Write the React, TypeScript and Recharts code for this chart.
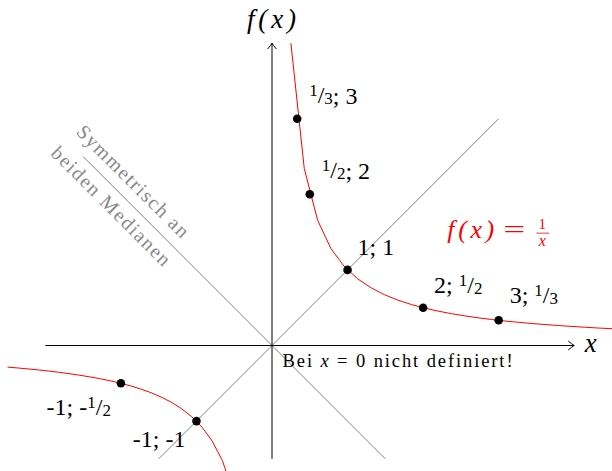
import React from "react";
import {
  ComposedChart,
  Line,
  Scatter,
  XAxis,
  YAxis,
  ReferenceLine,
  ReferenceDot,
} from "recharts";

// f(x) = 1/x, sampled like the original plot
const posX = [0.25, 0.427, 0.604, 0.781, 0.958, 1.135, 1.313, 1.49, 1.667, 1.844, 2.021, 2.198, 2.375, 2.552, 2.729, 2.906, 3.083, 3.26, 3.438, 3.615, 3.792, 3.969, 4.146, 4.323, 4.5];
const posY = [4, 2.342, 1.656, 1.28, 1.044, 0.881, 0.762, 0.671, 0.6, 0.542, 0.495, 0.455, 0.421, 0.392, 0.366, 0.344, 0.324, 0.307, 0.291, 0.277, 0.264, 0.252, 0.241, 0.231, 0.222];
const negX = [-3.5, -3.365, -3.229, -3.094, -2.958, -2.823, -2.688, -2.552, -2.417, -2.281, -2.146, -2.01, -1.875, -1.74, -1.604, -1.469, -1.333, -1.198, -1.063, -0.927, -0.792, -0.656, -0.521, -0.385];
const negY = [-0.286, -0.297, -0.31, -0.323, -0.338, -0.354, -0.372, -0.392, -0.414, -0.438, -0.466, -0.498, -0.533, -0.575, -0.623, -0.681, -0.75, -0.835, -0.941, -1.079, -1.263, -1.524, -1.919, -2.597];

// medians
const diagX = [-1.5, 3];
const diagY = [-1.5, 3];
const antiX = [-2.5, 1.5];
const antiY = [2.5, -1.5];

// marked points
const dotX = [0.3333, 0.5, 1, 2, 3, -2, -1];
const dotY = [3, 2, 1, 0.5, 0.3333, -0.5, -1];
const dotLabels = ["1/3; 3", "1/2; 2", "1; 1", "2; 1/2", "3; 1/3", "-1; -1/2", "-1; -1"];

const xAxisRange = [-3, 4];
const yAxisRange = [-1.5, 4];

const zip = (xs: number[], ys: number[]) => xs.map((x, i) => ({ x, y: ys[i] }));
const posData = zip(posX, posY);
const negData = zip(negX, negY);
const diagData = zip(diagX, diagY);
const antiData = zip(antiX, antiY);
const dotData = dotX.map((x, i) => ({ x, y: dotY[i], label: dotLabels[i] }));

const SERIF = "Liberation Serif";

// label placement relative to each dot (px)
const labelOffsets: Record<string, { dx: number; dy: number; anchor: "start" | "end" }> = {
  "1/3; 3": { dx: 12, dy: -16, anchor: "start" },
  "1/2; 2": { dx: 12, dy: -16, anchor: "start" },
  "1; 1": { dx: 10, dy: -15, anchor: "start" },
  "2; 1/2": { dx: 11, dy: -15, anchor: "start" },
  "3; 1/3": { dx: 11, dy: -17, anchor: "start" },
  "-1; -1/2": { dx: -10, dy: 32, anchor: "end" },
  "-1; -1": { dx: -11, dy: 26, anchor: "end" },
};

const renderLabel = (s: string) => {
  const out: React.ReactNode[] = [];
  const re = /(\d+)\/(\d+)/g;
  let last = 0;
  let k = 0;
  let m: RegExpExecArray | null;
  while ((m = re.exec(s))) {
    if (m.index > last) out.push(<tspan key={k++}>{s.slice(last, m.index).replace(/ /g, "\u00a0")}</tspan>);
    out.push(<tspan key={k++} fontSize={17} dy={-7}>{m[1]}</tspan>);
    out.push(<tspan key={k++} dy={7}>/</tspan>);
    out.push(<tspan key={k++} fontSize={17} dy={1}>{m[2]}</tspan>);
    last = m.index + m[0].length;
  }
  if (last < s.length) out.push(<tspan key={k++}>{s.slice(last).replace(/ /g, "\u00a0")}</tspan>);
  return out;
};

const DotWithLabel = (props: any) => {
  const { cx, cy, payload } = props;
  const off = labelOffsets[payload.label];
  return (
    <g>
      <circle cx={cx} cy={cy} r={4.3} fill="#000" />
      <text x={cx + off.dx} y={cy + off.dy} textAnchor={off.anchor} fontSize={24} fill="#000" fontFamily={SERIF}>
        {renderLabel(payload.label)}
      </text>
    </g>
  );
};

const ArrowAxis = (props: any) => {
  const { x1, y1, x2, y2 } = props;
  const deg = (Math.atan2(y2 - y1, x2 - x1) * 180) / Math.PI;
  return (
    <g>
      <line x1={x1} y1={y1} x2={x2} y2={y2} stroke="#000" strokeWidth={1} />
      <path
        d={`M ${x2 - 6} ${y2 - 4.5} Q ${x2 - 2} ${y2 - 1} ${x2} ${y2} Q ${x2 - 2} ${y2 + 1} ${x2 - 6} ${y2 + 4.5}`}
        transform={`rotate(${deg} ${x2} ${y2})`}
        fill="none"
        stroke="#000"
        strokeWidth={1}
      />
    </g>
  );
};

const Formula = (props: any) => {
  const { cx, cy } = props;
  const red = "#ff0000";
  return (
    <g fill={red} fontFamily={SERIF}>
      <text x={cx} y={cy} fontSize={26} fontStyle="italic" textLength={47} lengthAdjust="spacing">
        f(x)
      </text>
      <text x={cx + 56} y={cy} fontSize={26} textLength={22} lengthAdjust="spacingAndGlyphs">
        =
      </text>
      <text x={cx + 95} y={cy - 9.5} fontSize={15} textAnchor="middle">
        1
      </text>
      <line x1={cx + 89} y1={cy - 5} x2={cx + 102} y2={cy - 5} stroke={red} strokeWidth={0.8} />
      <text x={cx + 95} y={cy + 7.5} fontSize={16} fontStyle="italic" textAnchor="middle">
        x
      </text>
    </g>
  );
};

const TopLabel = (props: any) => (
  <text x={props.cx - 25} y={props.cy} fontSize={27} fontStyle="italic" fontFamily={SERIF} textLength={49} lengthAdjust="spacing">
    f(x)
  </text>
);

const XLabel = (props: any) => (
  <text x={props.cx} y={props.cy} fontSize={27} fontStyle="italic" fontFamily={SERIF}>
    x
  </text>
);

const NoteLabel = (props: any) => (
  <text x={props.cx} y={props.cy} fontSize={18.5} fontFamily={SERIF} textLength={230} lengthAdjust="spacing">
    Bei <tspan fontStyle="italic">x</tspan> = 0 nicht definiert!
  </text>
);

const MedianNote = (props: any) => {
  const { cx, cy } = props;
  return (
    <g transform={`rotate(45 ${cx} ${cy})`} fontSize={20} fill="#8a8a8a" fontFamily={SERIF}>
      <text x={cx - 6} y={cy - 18} textAnchor="middle" dominantBaseline="central" textLength={150} lengthAdjust="spacing">
        Symmetrisch an
      </text>
      <text x={cx - 4} y={cy + 15} textAnchor="middle" dominantBaseline="central" textLength={160} lengthAdjust="spacing">
        beiden Medianen
      </text>
    </g>
  );
};

export default function App() {
  return (
    <div style={{ position: "absolute", left: 0, top: 0, width: 612, height: 471, background: "#fff" }}>
      <ComposedChart width={612} height={471} margin={{ top: 0, right: 0, bottom: 0, left: 0 }}>
        <XAxis type="number" dataKey="x" domain={[-3.6, 4.5]} allowDataOverflow hide />
        <YAxis type="number" dataKey="y" domain={[-1.66, 4.57]} allowDataOverflow hide />
        <Line data={diagData} dataKey="y" type="linear" stroke="#808080" strokeWidth={1} dot={false} activeDot={false} isAnimationActive={false} />
        <Line data={antiData} dataKey="y" type="linear" stroke="#808080" strokeWidth={1} dot={false} activeDot={false} isAnimationActive={false} />
        <ReferenceLine
          segment={[{ x: xAxisRange[0], y: 0 }, { x: xAxisRange[1], y: 0 }]}
          shape={ArrowAxis}
        />
        <ReferenceLine
          segment={[{ x: 0, y: yAxisRange[0] }, { x: 0, y: yAxisRange[1] }]}
          shape={ArrowAxis}
        />
        <Line data={posData} dataKey="y" type="linear" stroke="#ff0000" strokeWidth={1} dot={false} activeDot={false} isAnimationActive={false} />
        <Line data={negData} dataKey="y" type="linear" stroke="#ff0000" strokeWidth={1} dot={false} activeDot={false} isAnimationActive={false} />
        <Scatter data={dotData} dataKey="y" shape={DotWithLabel} isAnimationActive={false} />
        <ReferenceDot x={0} y={4.2} r={0} shape={TopLabel} />
        <ReferenceDot x={4.14} y={-0.08} r={0} shape={XLabel} />
        <ReferenceDot x={0.14} y={-0.28} r={0} shape={NoteLabel} />
        <ReferenceDot x={2.32} y={1.42} r={0} shape={Formula} />
        <ReferenceDot x={-1.95} y={1.95} r={0} shape={MedianNote} />
      </ComposedChart>
    </div>
  );
}
